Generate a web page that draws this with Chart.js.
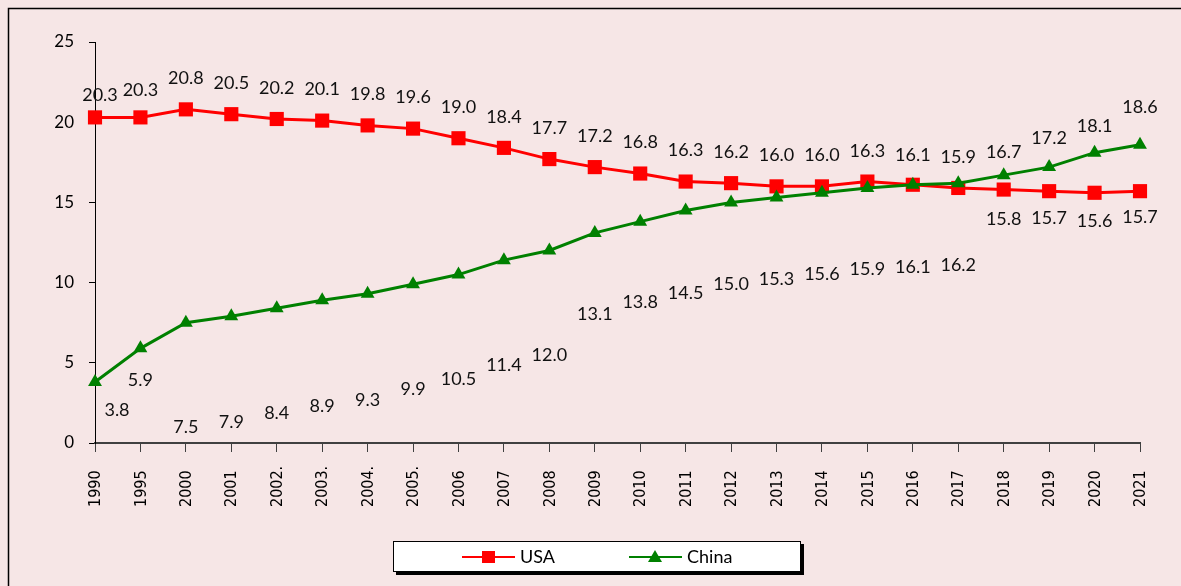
<!DOCTYPE html>
<html>
<head>
<meta charset="utf-8">
<script src="https://cdn.jsdelivr.net/npm/chart.js@4.4.1/dist/chart.umd.min.js"></script>
<style>
body{margin:0;background:#F6E6E6;}
canvas{display:block;}
</style>
</head>
<body>
<canvas id="grafica" width="1181" height="586"></canvas>
<script>

// DATOS

const years = ['1990','1995','2000','2001','2002.','2003.','2004.','2005.','2006','2007','2008','2009',
               '2010','2011','2012','2013','2014','2015','2016','2017','2018','2019','2020','2021'];

const usa = [20.3, 20.3, 20.8, 20.5, 20.2, 20.1, 19.8, 19.6, 19.0, 18.4, 17.7, 17.2,
             16.8, 16.3, 16.2, 16.0, 16.0, 16.3, 16.1, 15.9, 15.8, 15.7, 15.6, 15.7];

const china = [3.8, 5.9, 7.5, 7.9, 8.4, 8.9, 9.3, 9.9, 10.5, 11.4, 12.0, 13.1,
               13.8, 14.5, 15.0, 15.3, 15.6, 15.9, 16.1, 16.2, 16.7, 17.2, 18.1, 18.6];

const yTicks = [0, 5, 10, 15, 20, 25];


// POSICION DE LAS ETIQUETAS (px respecto al punto)

const usaDy = [-22, -27, -31, -31, -31, -31, -31, -31, -31, -31, -31, -31,
               -31, -31, -31, -31, -31, -30, -30, -31, 30, 27, 28, 26];
const usaDx = [5, 0, 0, 0, 0, 0, 0, 0, 0, 0, 0, 0, 0, 0, 0, 0, 0, 0, 0, 0, 0, 0, 0, 0];

const chinaDy = [28, 32, 104, 106, 105, 106, 106, 105, 105, 105, 105, 81,
                 81, 83, 82, 82, 81, 81, 82, 82, -23, -29, -26, -37];
const chinaDx = [22, 0, 0, 0, 0, 0, 0, 0, 0, 0, 0, 0, 0, 0, 0, 0, 0, 0, 0, 0, 0, 0, 0, 0];

const tickFont = '16px "DejaVu Sans Condensed", "DejaVu Sans"';


// FONDO Y MARCO

const fondo = {
    id: 'fondo',
    beforeDraw(chart){
        const ctx = chart.ctx;
        ctx.save();
        ctx.fillStyle = '#F6E6E6';
        ctx.fillRect(0, 0, chart.width, chart.height);
        ctx.strokeStyle = '#000';
        ctx.lineWidth = 1.5;
        ctx.strokeRect(8.5, 8.5, 1190, 600);
        ctx.restore();
    }
};


// ETIQUETAS DEL EJE X (alineadas por abajo, como en Excel)

const ejeX = {
    id: 'ejeX',
    afterDraw(chart){
        const ctx = chart.ctx;
        const xs = chart.scales.x;
        ctx.save();
        ctx.font = tickFont;
        ctx.fillStyle = '#000';
        ctx.textAlign = 'left';
        ctx.textBaseline = 'middle';
        years.forEach((lab, i)=>{
            ctx.save();
            ctx.translate(xs.getPixelForTick(i) + 1, 507);
            ctx.rotate(-Math.PI / 2);
            ctx.fillText(lab, 0, 0);
            ctx.restore();
        });
        ctx.restore();
    }
};


// ETIQUETAS DE DATOS

const etiquetas = {
    id: 'etiquetas',
    afterDatasetsDraw(chart){
        const ctx = chart.ctx;
        const offs = [[usaDx, usaDy], [chinaDx, chinaDy]];
        ctx.save();
        ctx.font = '18px Lato';
        ctx.fillStyle = '#111';
        ctx.textAlign = 'center';
        ctx.textBaseline = 'middle';
        chart.data.datasets.forEach((ds, i)=>{
            const meta = chart.getDatasetMeta(i);
            meta.data.forEach((pt, j)=>{
                ctx.fillText(ds.data[j].toFixed(1), pt.x + offs[i][0][j], pt.y + offs[i][1][j]);
            });
        });
        ctx.restore();
    }
};


// LEYENDA (caja blanca con sombra)

const leyenda = {
    id: 'leyenda',
    afterDraw(chart){
        const ctx = chart.ctx;
        ctx.save();
        ctx.fillStyle = '#000';
        ctx.fillRect(396, 544, 408, 31);
        ctx.fillStyle = '#fff';
        ctx.fillRect(393, 541, 408, 31);
        ctx.strokeStyle = '#000';
        ctx.lineWidth = 1;
        ctx.strokeRect(393.5, 541.5, 407, 30);

        const y = 557;
        ctx.lineWidth = 2;

        ctx.strokeStyle = '#FF0000';
        ctx.beginPath(); ctx.moveTo(462, y); ctx.lineTo(515, y); ctx.stroke();
        ctx.fillStyle = '#FF0000';
        ctx.fillRect(482, y - 6, 13, 12);

        ctx.strokeStyle = '#008000';
        ctx.beginPath(); ctx.moveTo(629, y); ctx.lineTo(682, y); ctx.stroke();
        ctx.fillStyle = '#008000';
        ctx.beginPath();
        ctx.moveTo(655, y - 7); ctx.lineTo(662, y + 5); ctx.lineTo(648, y + 5);
        ctx.closePath(); ctx.fill();

        ctx.fillStyle = '#000';
        ctx.font = '18px Lato';
        ctx.textBaseline = 'middle';
        ctx.textAlign = 'left';
        ctx.fillText('USA', 520, y);
        ctx.fillText('China', 687, y);
        ctx.restore();
    }
};


// GRAFICA

const ctx = document.getElementById('grafica');

new Chart(ctx, {

    type: 'line',

    data: {
        labels: years,
        datasets: [{
            label: 'USA',
            data: usa,
            borderColor: '#FF0000',
            backgroundColor: '#FF0000',
            borderWidth: 3,
            pointStyle: 'rect',
            pointRadius: 10,
            pointBorderWidth: 0,
            tension: 0,
            order: 1
        },{
            label: 'China',
            data: china,
            borderColor: '#008000',
            backgroundColor: '#008000',
            borderWidth: 3,
            pointStyle: 'triangle',
            pointRadius: 8,
            pointBorderWidth: 0,
            tension: 0,
            order: 0
        }]
    },

    options: {
        responsive: false,
        animation: false,
        layout: {
            padding: { left: 0, top: 42, right: 41, bottom: 0 }
        },
        plugins: {
            legend: { display: false },
            tooltip: { enabled: false }
        },
        scales: {
            x: {
                afterFit(scale){ scale.height = 143; },
                grid: {
                    drawOnChartArea: false,
                    drawTicks: true,
                    tickLength: 9,
                    color: '#404040'
                },
                border: { color: '#404040', width: 2 },
                ticks: {
                    display: false,
                    autoSkip: false
                }
            },
            y: {
                min: yTicks[0],
                max: yTicks[yTicks.length - 1],
                afterFit(scale){ scale.width = 95; },
                afterBuildTicks(scale){ scale.ticks = yTicks.map(v => ({ value: v })); },
                grid: {
                    drawOnChartArea: false,
                    drawTicks: true,
                    tickLength: 6,
                    color: '#000'
                },
                border: { color: '#000', width: 1 },
                ticks: {
                    padding: 15,
                    color: '#000',
                    font: { family: 'Lato', size: 17 }
                }
            }
        }
    },

    plugins: [fondo, ejeX, etiquetas, leyenda]

});

</script>
</body>
</html>
